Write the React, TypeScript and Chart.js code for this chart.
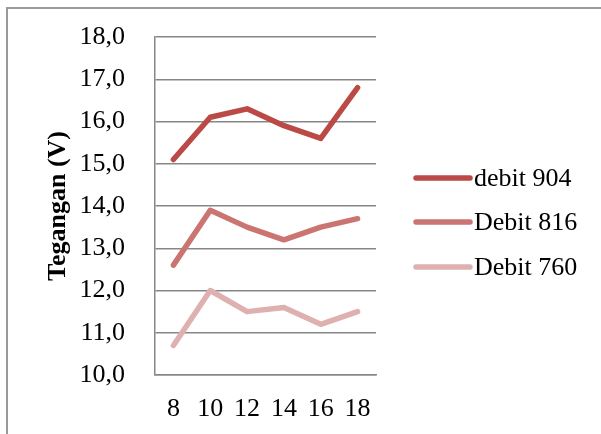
import React, { useEffect, useRef } from "react";
import { Chart, registerables } from "chart.js";

Chart.register(...registerables);

const categories = ["8", "10", "12", "14", "16", "18"];
const debit904 = [15.1, 16.1, 16.3, 15.9, 15.6, 16.8];
const debit816 = [12.6, 13.9, 13.5, 13.2, 13.5, 13.7];
const debit760 = [10.7, 12.0, 11.5, 11.6, 11.2, 11.5];
const seriesLabels = ["debit 904", "Debit 816", "Debit 760"];
const seriesColors = ["#bb4a47", "#cb7572", "#deb1b0"];
const yMin = 10;
const yMax = 18;
const yStep = 1;
const yTitle = "Tegangan (V)";

const FONT = "'Liberation Serif', 'Times New Roman', serif";

const legendPlugin = {
  id: "customLegend",
  afterDraw(chart: any) {
    const ctx = chart.ctx;
    ctx.save();
    const x0 = 416;
    const x1 = 470;
    const rows = [178, 222, 267];
    chart.data.datasets.forEach((ds: any, i: number) => {
      const y = rows[i];
      ctx.strokeStyle = ds.borderColor;
      ctx.lineWidth = 5.5;
      ctx.lineCap = "round";
      ctx.beginPath();
      ctx.moveTo(x0, y);
      ctx.lineTo(x1, y);
      ctx.stroke();
      ctx.fillStyle = "#000";
      ctx.font = `26px ${FONT}`;
      ctx.textBaseline = "middle";
      ctx.textAlign = "left";
      ctx.fillText(ds.label, 474, y + 1);
    });
    ctx.restore();
  },
};

export default function App() {
  const ref = useRef<HTMLCanvasElement>(null);
  useEffect(() => {
    if (!ref.current) return;
    const values = [debit904, debit816, debit760];
    const chart = new Chart(ref.current, {
      type: "line",
      data: {
        labels: categories,
        datasets: values.map((v, i) => ({
          label: seriesLabels[i],
          data: v,
          borderColor: seriesColors[i],
          backgroundColor: seriesColors[i],
          borderWidth: 5.5,
          pointRadius: 0,
          tension: 0,
          borderCapStyle: "round" as const,
          borderJoinStyle: "round" as const,
        })),
      },
      options: {
        animation: false,
        responsive: false,
        devicePixelRatio: 1,
        layout: { padding: { left: 0, top: 37, right: 225, bottom: 0 } },
        plugins: { legend: { display: false }, tooltip: { enabled: false } },
        scales: {
          x: {
            offset: true,
            grid: { display: false, drawTicks: false },
            border: { display: true, color: "#878787", width: 1.5 },
            ticks: { color: "#000", font: { family: FONT, size: 26 }, padding: 19, maxRotation: 0, autoSkip: false },
            afterFit(scale: any) {
              scale.height = 59;
              scale.paddingLeft = 0;
              scale.paddingRight = 0;
            },
          },
          y: {
            min: yMin,
            max: yMax,
            grid: { color: "#878787", lineWidth: 1.5, drawTicks: false },
            border: { display: true, color: "#878787", width: 1.5 },
            ticks: {
              stepSize: yStep,
              color: "#000",
              font: { family: FONT, size: 26 },
              padding: 30,
              callback: (v: any) => Number(v).toFixed(1).replace(".", ","),
            },
            title: {
              display: true,
              text: yTitle,
              color: "#000",
              font: { family: FONT, size: 26, weight: "bold" },
              padding: { top: 43, bottom: 0 },
            },
            afterFit(scale: any) {
              scale.width = 155;
              scale.paddingTop = 0;
              scale.paddingBottom = 0;
            },
          },
        },
      },
      plugins: [legendPlugin],
    });
    return () => chart.destroy();
  }, []);
  return (
    <div style={{ position: "fixed", left: 0, top: 0, width: 601, height: 434, background: "#fff" }}>
      <div
        style={{
          position: "absolute",
          left: 6,
          top: 7,
          width: 601,
          height: 434,
          borderTop: "2px solid #9a9a9a",
          borderLeft: "2px solid #9a9a9a",
        }}
      />
      <canvas ref={ref} width={601} height={434} style={{ position: "absolute", left: 0, top: 0, width: 601, height: 434 }} />
    </div>
  );
}
